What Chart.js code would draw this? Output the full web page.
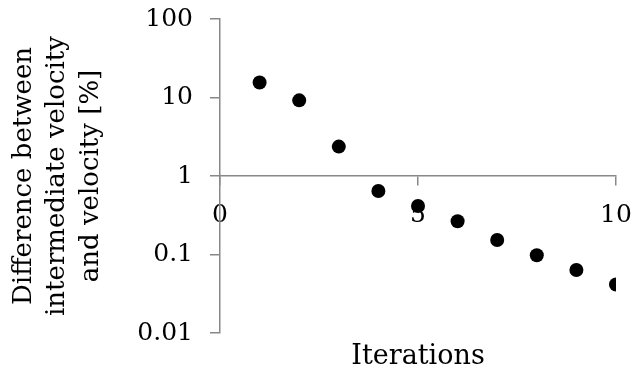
<!DOCTYPE html>
<html>
<head>
<meta charset="utf-8">
<script src="https://cdn.jsdelivr.net/npm/chart.js@4/dist/chart.umd.min.js"></script>
<style>
  html, body { margin: 0; padding: 0; background: #fff; }
  #wrap { width: 634px; height: 376px; position: relative; }
</style>
</head>
<body>
<div id="wrap"><canvas id="myChart"></canvas></div>
<script>
const iterations = [1, 2, 3, 4, 5, 6, 7, 8, 9, 10];
const velocityDiff = [15.5, 9.2, 2.37, 0.645, 0.415, 0.265, 0.153, 0.098, 0.0635, 0.0414];
const yTicks = [0.01, 0.1, 1, 10, 100];
const yTickLabels = ["0.01", "0.1", "1", "10", "100"];
const yTitle = ["Difference between", "intermediate velocity", "and velocity [%]"];
const xTitle = "Iterations";

const axisGray = "#888888";
const serif = "'DejaVu Serif', serif";

// keep tick labels from pushing the plot area inwards
const noEdgePadding = (scale) => {
  scale.paddingTop = 0;
  scale.paddingBottom = 0;
  scale.paddingLeft = 0;
  scale.paddingRight = 0;
};

document.addEventListener("DOMContentLoaded", () => {
  const ctx = document.getElementById("myChart").getContext("2d");

  const config = {
    type: "scatter",
    data: {
      datasets: [
        {
          label: "Difference",
          data: iterations.map((x, i) => ({ x: x, y: velocityDiff[i] })),
          backgroundColor: "#000",
          borderWidth: 0,
          pointRadius: 7,
          pointHoverRadius: 7,
        },
      ],
    },
    options: {
      responsive: true,
      maintainAspectRatio: false,
      animation: false,
      layout: {
        padding: { top: 19, right: 18, left: 0, bottom: 0 },
      },
      plugins: {
        legend: { display: false },
        tooltip: { enabled: false },
      },
      scales: {
        x: {
          type: "linear",
          min: 0,
          max: 10,
          position: { y: 1 },
          border: { color: axisGray, width: 1.5 },
          grid: {
            drawOnChartArea: false,
            color: axisGray,
            lineWidth: 1.5,
            tickLength: 9,
          },
          ticks: {
            stepSize: 5,
            padding: 15,
            maxRotation: 0,
            color: "#000",
            font: { family: serif, size: 25 },
          },
          afterFit: noEdgePadding,
        },
        x2: {
          type: "linear",
          axis: "x",
          position: "bottom",
          min: 0,
          max: 10,
          grid: { display: false },
          border: { display: false },
          ticks: { display: false },
          title: {
            display: true,
            text: xTitle,
            color: "#000",
            font: { family: serif, size: 27 },
            padding: { top: 0, bottom: 3 },
          },
          afterFit: (scale) => {
            noEdgePadding(scale);
            scale.height = 43;
          },
        },
        y: {
          type: "logarithmic",
          min: 0.01,
          max: 100,
          border: { color: axisGray, width: 1.5 },
          grid: {
            drawOnChartArea: false,
            color: axisGray,
            lineWidth: 1.5,
            tickLength: 10,
          },
          afterBuildTicks: (scale) => {
            scale.ticks = yTicks.map((v) => ({ value: v }));
          },
          ticks: {
            padding: 17,
            color: "#000",
            font: { family: serif, size: 25 },
            callback: (value, index) => yTickLabels[index],
          },
          title: {
            display: true,
            text: yTitle,
            color: "#000",
            font: { family: serif, size: 26, lineHeight: 1.3 },
            padding: { top: 7, bottom: 0 },
          },
          afterFit: (scale) => {
            noEdgePadding(scale);
            scale.width = 220;
          },
        },
      },
    },
  };

  new Chart(ctx, config);
});
</script>
</body>
</html>
